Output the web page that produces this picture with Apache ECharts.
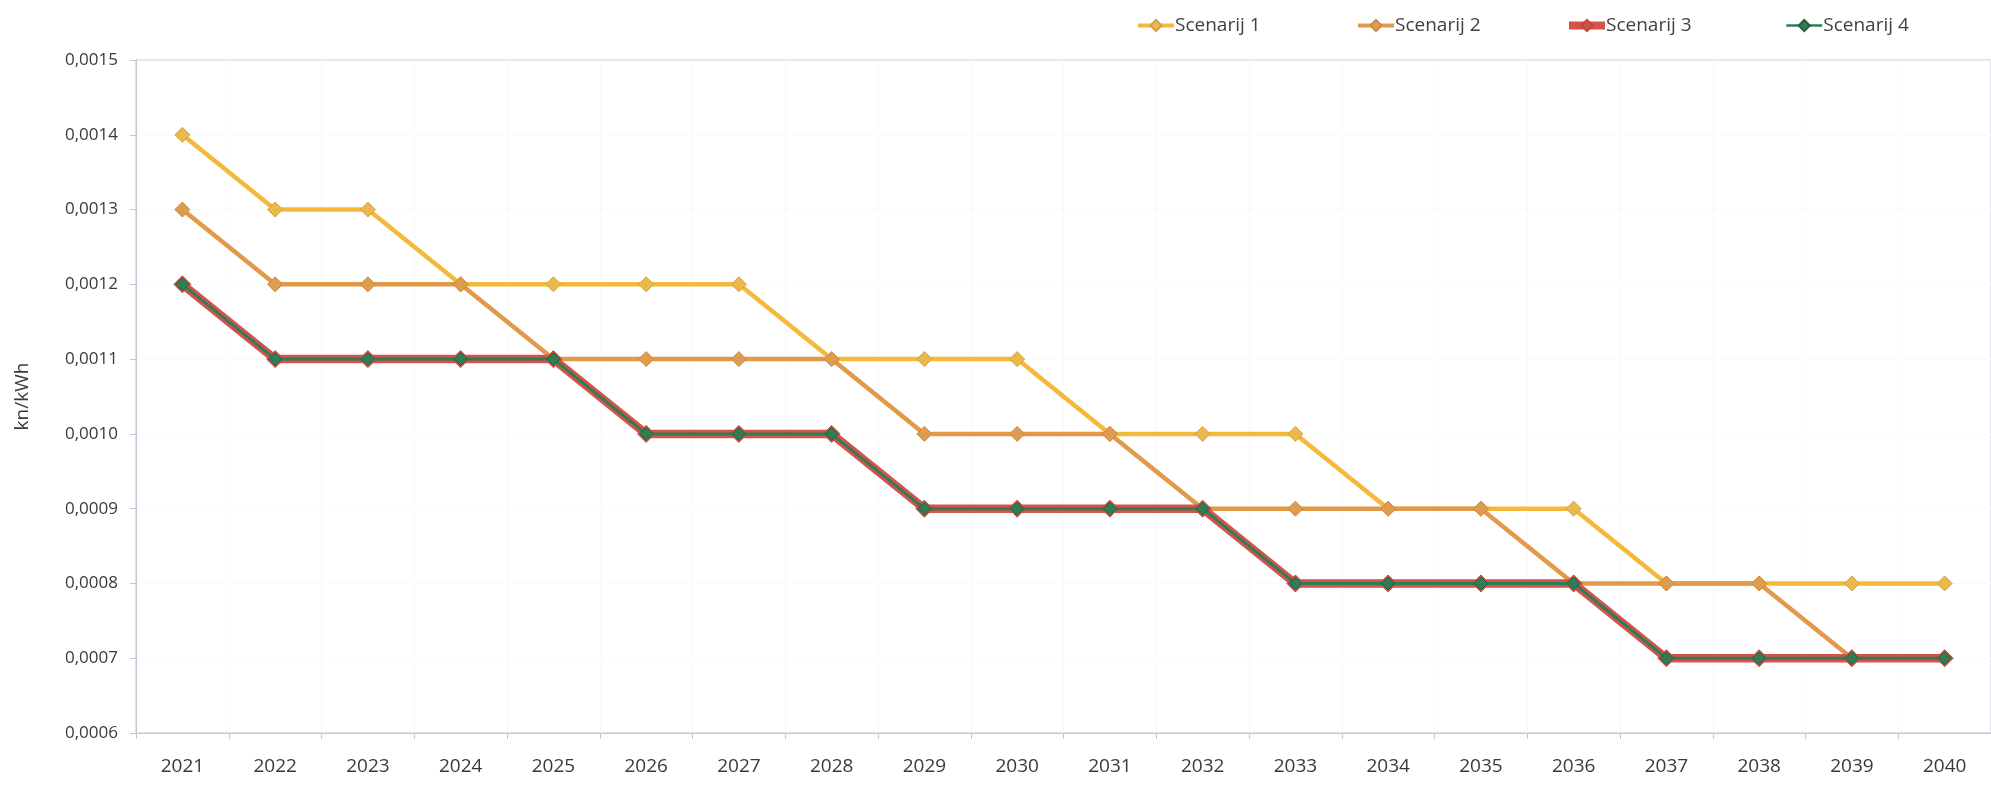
<!DOCTYPE html>
<html>
<head>
<meta charset="utf-8">
<title>kn/kWh</title>
<script src="https://cdn.jsdelivr.net/npm/echarts@6/dist/echarts.min.js"></script>
<style>
  html, body { margin: 0; padding: 0; background: #fff; }
  #main { width: 1991px; height: 787px; }
</style>
</head>
<body>
<div id="main"></div>
<script>
// godine
const years = ["2021", "2022", "2023", "2024", "2025", "2026", "2027", "2028", "2029", "2030",
  "2031", "2032", "2033", "2034", "2035", "2036", "2037", "2038", "2039", "2040"];

// kn/kWh po scenarijima
const scenarij1 = [0.0014, 0.0013, 0.0013, 0.0012, 0.0012, 0.0012, 0.0012, 0.0011, 0.0011, 0.0011,
  0.0010, 0.0010, 0.0010, 0.0009, 0.0009, 0.0009, 0.0008, 0.0008, 0.0008, 0.0008];
const scenarij2 = [0.0013, 0.0012, 0.0012, 0.0012, 0.0011, 0.0011, 0.0011, 0.0011, 0.0010, 0.0010,
  0.0010, 0.0009, 0.0009, 0.0009, 0.0009, 0.0008, 0.0008, 0.0008, 0.0007, 0.0007];
const scenarij3 = [0.0012, 0.0011, 0.0011, 0.0011, 0.0011, 0.0010, 0.0010, 0.0010, 0.0009, 0.0009,
  0.0009, 0.0009, 0.0008, 0.0008, 0.0008, 0.0008, 0.0007, 0.0007, 0.0007, 0.0007];
const scenarij4 = [0.0012, 0.0011, 0.0011, 0.0011, 0.0011, 0.0010, 0.0010, 0.0010, 0.0009, 0.0009,
  0.0009, 0.0009, 0.0008, 0.0008, 0.0008, 0.0008, 0.0007, 0.0007, 0.0007, 0.0007];

const font = "'Open Sans', 'Noto Sans', sans-serif";
const axisColor = "#c3c7d3";
const textColor = "#3a3a3a";

// jedna legenda po scenariju, da razmaci budu kao na slici
function legendAt(name, left, lineWidth) {
  return {
    data: [name],
    top: 11,
    left: left,
    itemWidth: 36,
    itemHeight: 14,
    itemGap: 4,
    lineStyle: { width: lineWidth },
    textStyle: { fontFamily: font, fontSize: 19, color: "#404040", padding: [0, 0, 0, -4] },
  };
}

const chart = echarts.init(document.getElementById("main"));

const options = {
  animation: false,
  backgroundColor: "#fff",
  legend: [
    legendAt("Scenarij 1", 1131, 4),
    legendAt("Scenarij 2", 1351, 4),
    legendAt("Scenarij 3", 1560, 8),
    legendAt("Scenarij 4", 1780, 2.5),
  ],
  grid: {
    left: 136,
    top: 60,
    bottom: 54,
    width: 1868,
    show: true,
    borderColor: axisColor,
    borderWidth: 1,
  },
  xAxis: {
    type: "category",
    data: years,
    boundaryGap: true,
    axisLine: { lineStyle: { color: axisColor, width: 1 } },
    axisTick: { show: true, length: 6, inside: false, lineStyle: { color: axisColor } },
    axisLabel: { fontFamily: font, fontSize: 19, color: textColor, margin: 24 },
    splitLine: { show: true, lineStyle: { color: "#f4f4f6", type: "dotted" } },
  },
  yAxis: {
    type: "value",
    min: 0.0006,
    max: 0.0015,
    interval: 0.0001,
    name: "kn/kWh",
    nameLocation: "middle",
    nameGap: 104,
    nameRotate: 90,
    nameTextStyle: { fontFamily: font, fontSize: 19, color: textColor },
    axisLine: { show: true, lineStyle: { color: axisColor, width: 1 } },
    axisTick: { show: true, length: 6, lineStyle: { color: axisColor } },
    axisLabel: {
      fontFamily: font,
      fontSize: 17,
      color: textColor,
      margin: 18,
      formatter: function (v) {
        return v.toFixed(4).replace(".", ",");
      },
    },
    splitLine: { show: true, lineStyle: { color: "#f4f4f6", type: "dotted" } },
  },
  series: [
    {
      name: "Scenarij 1",
      type: "line",
      data: scenarij1,
      symbol: "diamond",
      symbolSize: 15,
      z: 3,
      lineStyle: { color: "#f5b93a", width: 4.5 },
      itemStyle: { color: "#ecb84a", borderColor: "#cfa24e", borderWidth: 1 },
    },
    {
      name: "Scenarij 2",
      type: "line",
      data: scenarij2,
      symbol: "diamond",
      symbolSize: 15,
      z: 4,
      lineStyle: { color: "#e2994a", width: 4.5 },
      itemStyle: { color: "#df9b4e", borderColor: "#c98a47", borderWidth: 1 },
    },
    {
      name: "Scenarij 3",
      type: "line",
      data: scenarij3,
      symbol: "diamond",
      symbolSize: 17,
      z: 5,
      lineStyle: { color: "#d6534c", width: 8.5 },
      itemStyle: { color: "#d6534c", borderColor: "#c0463f", borderWidth: 1 },
    },
    {
      name: "Scenarij 4",
      type: "line",
      data: scenarij4,
      symbol: "diamond",
      symbolSize: 13,
      z: 6,
      lineStyle: { color: "#2f7d55", width: 3 },
      itemStyle: { color: "#2f7d55", borderColor: "#24603f", borderWidth: 1 },
    },
  ],
};

chart.setOption(options);
</script>
</body>
</html>
